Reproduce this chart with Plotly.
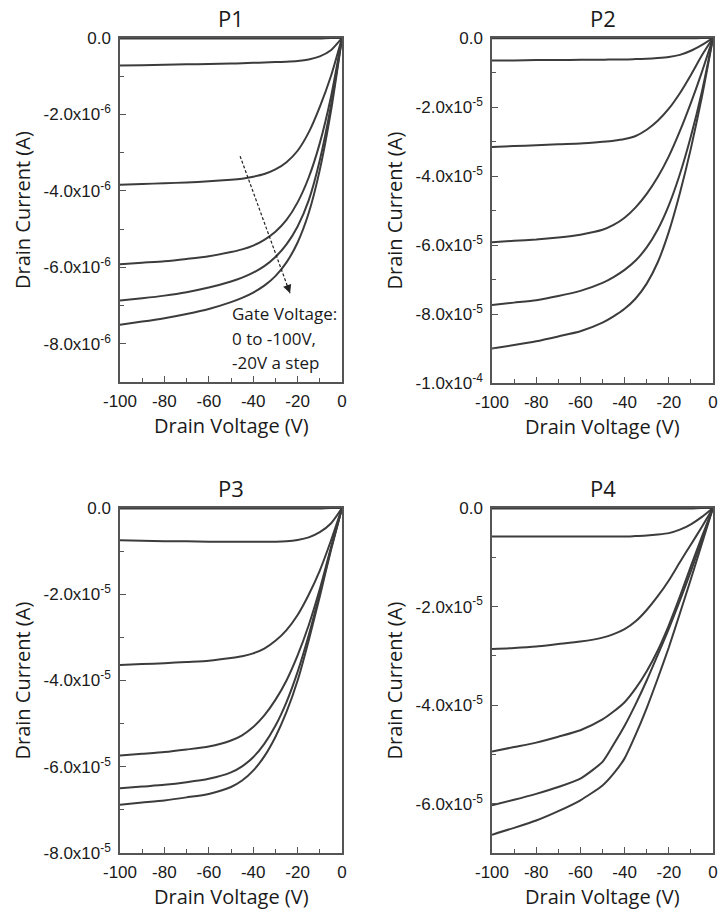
import plotly.graph_objects as go

# Drain voltage sample points (V)
drain_v = [-100, -90, -80, -70, -60, -50, -45, -40, -35, -30, -25, -20, -15, -10, -5, 0]

# Gate voltage labels (0 to -100 V, -20 V a step)
gate_v = [0, -20, -40, -60, -80, -100]

# P1 drain current (x1e-6 A), one list per gate voltage
p1_g0 = [-0.01, -0.01, -0.01, -0.01, -0.01, -0.01, -0.01, -0.01, -0.01, -0.01, -0.01, -0.01, -0.01, -0.01, 0, 0]
p1_g20 = [-0.72, -0.71, -0.70, -0.69, -0.68, -0.67, -0.66, -0.65, -0.64, -0.63, -0.62, -0.60, -0.56, -0.48, -0.32, 0]
p1_g40 = [-3.84, -3.82, -3.80, -3.78, -3.75, -3.71, -3.68, -3.63, -3.56, -3.44, -3.25, -2.95, -2.47, -1.80, -1.00, 0]
p1_g60 = [-5.92, -5.88, -5.84, -5.78, -5.71, -5.60, -5.53, -5.43, -5.28, -5.07, -4.76, -4.30, -3.65, -2.75, -1.55, 0]
p1_g80 = [-6.87, -6.81, -6.74, -6.65, -6.53, -6.37, -6.27, -6.14, -5.97, -5.73, -5.40, -4.93, -4.25, -3.20, -1.78, 0]
p1_g100 = [-7.50, -7.42, -7.33, -7.22, -7.09, -6.91, -6.80, -6.66, -6.48, -6.23, -5.87, -5.35, -4.58, -3.45, -1.92, 0]

# P2 drain current (x1e-5 A)
p2_g0 = [-0.01, -0.01, -0.01, -0.01, -0.01, -0.01, -0.01, -0.01, -0.01, -0.01, -0.01, -0.01, -0.01, -0.01, 0, 0]
p2_g20 = [-0.65, -0.65, -0.64, -0.64, -0.63, -0.63, -0.62, -0.62, -0.61, -0.60, -0.58, -0.55, -0.49, -0.37, -0.20, 0]
p2_g40 = [-3.16, -3.13, -3.11, -3.08, -3.06, -3.01, -2.98, -2.93, -2.84, -2.66, -2.40, -2.05, -1.60, -1.07, -0.50, 0]
p2_g60 = [-5.92, -5.88, -5.84, -5.78, -5.70, -5.56, -5.42, -5.21, -4.91, -4.52, -4.03, -3.43, -2.70, -1.88, -0.98, 0]
p2_g80 = [-7.74, -7.67, -7.60, -7.48, -7.33, -7.10, -6.93, -6.72, -6.45, -6.07, -5.55, -4.85, -3.95, -2.85, -1.55, 0]
p2_g100 = [-9.00, -8.90, -8.79, -8.65, -8.50, -8.25, -8.07, -7.85, -7.55, -7.12, -6.50, -5.62, -4.50, -3.20, -1.70, 0]

# P3 drain current (x1e-5 A)
p3_g0 = [-0.01, -0.01, -0.01, -0.01, -0.01, -0.01, -0.01, -0.01, -0.01, -0.01, -0.01, -0.01, -0.01, -0.01, 0, 0]
p3_g20 = [-0.75, -0.76, -0.77, -0.77, -0.78, -0.78, -0.78, -0.78, -0.78, -0.78, -0.77, -0.74, -0.68, -0.56, -0.36, 0]
p3_g40 = [-3.64, -3.62, -3.60, -3.57, -3.54, -3.48, -3.44, -3.37, -3.26, -3.08, -2.83, -2.48, -2.01, -1.45, -0.76, 0]
p3_g60 = [-5.74, -5.70, -5.66, -5.60, -5.53, -5.39, -5.27, -5.08, -4.81, -4.45, -4.00, -3.42, -2.72, -1.88, -0.92, 0]
p3_g80 = [-6.50, -6.46, -6.42, -6.36, -6.28, -6.13, -5.99, -5.78, -5.47, -5.05, -4.50, -3.80, -2.95, -1.98, -0.95, 0]
p3_g100 = [-6.88, -6.83, -6.78, -6.71, -6.63, -6.47, -6.32, -6.09, -5.76, -5.31, -4.73, -4.00, -3.07, -2.05, -0.98, 0]

# P4 drain current (x1e-5 A)
p4_g0 = [-0.01, -0.01, -0.01, -0.01, -0.01, -0.01, -0.01, -0.01, -0.01, -0.01, -0.01, -0.01, -0.01, -0.01, 0, 0]
p4_g20 = [-0.58, -0.58, -0.58, -0.58, -0.58, -0.58, -0.58, -0.58, -0.57, -0.56, -0.54, -0.51, -0.44, -0.33, -0.18, 0]
p4_g40 = [-2.86, -2.84, -2.81, -2.76, -2.71, -2.63, -2.56, -2.46, -2.30, -2.07, -1.79, -1.47, -1.10, -0.74, -0.38, 0]
p4_g60 = [-4.94, -4.85, -4.76, -4.64, -4.51, -4.29, -4.13, -3.94, -3.66, -3.31, -2.89, -2.38, -1.80, -1.18, -0.58, 0]
p4_g80 = [-6.03, -5.92, -5.80, -5.66, -5.49, -5.15, -4.80, -4.42, -3.98, -3.50, -2.98, -2.45, -1.88, -1.28, -0.65, 0]
p4_g100 = [-6.63, -6.49, -6.34, -6.15, -5.93, -5.63, -5.39, -5.08, -4.60, -4.06, -3.46, -2.83, -2.14, -1.44, -0.72, 0]

panel_titles = ["P1", "P2", "P3", "P4"]
panel_scales = [1e-6, 1e-5, 1e-5, 1e-5]
panel_series = [
    [p1_g0, p1_g20, p1_g40, p1_g60, p1_g80, p1_g100],
    [p2_g0, p2_g20, p2_g40, p2_g60, p2_g80, p2_g100],
    [p3_g0, p3_g20, p3_g40, p3_g60, p3_g80, p3_g100],
    [p4_g0, p4_g20, p4_g40, p4_g60, p4_g80, p4_g100],
]
# y tick values (in units of the panel scale) and labels
panel_yticks = [
    [0, -2, -4, -6, -8],
    [0, -2, -4, -6, -8, -10],
    [0, -2, -4, -6, -8],
    [0, -2, -4, -6],
]
panel_yticktext = [
    ["0.0", "-2.0x10<sup>-6</sup>", "-4.0x10<sup>-6</sup>", "-6.0x10<sup>-6</sup>", "-8.0x10<sup>-6</sup>"],
    ["0.0", "-2.0x10<sup>-5</sup>", "-4.0x10<sup>-5</sup>", "-6.0x10<sup>-5</sup>", "-8.0x10<sup>-5</sup>", "-1.0x10<sup>-4</sup>"],
    ["0.0", "-2.0x10<sup>-5</sup>", "-4.0x10<sup>-5</sup>", "-6.0x10<sup>-5</sup>", "-8.0x10<sup>-5</sup>"],
    ["0.0", "-2.0x10<sup>-5</sup>", "-4.0x10<sup>-5</sup>", "-6.0x10<sup>-5</sup>"],
]
panel_yminor = [
    [-1, -3, -5, -7, -9],
    [-1, -3, -5, -7, -9],
    [-1, -3, -5, -7],
    [-1, -3, -5, -7],
]
panel_ymin = [-9, -10, -8, -7]
x_ticks = [-100, -80, -60, -40, -20, 0]
x_minor = [-90, -70, -50, -30, -10]

x_title = "Drain Voltage (V)"
y_title = "Drain Current (A)"
note_lines = ["Gate Voltage:", "0 to -100V,", "-20V a step"]

W, H = 718, 911
# plot-area pixel boxes: (left, right, top, bottom)
boxes = [(120, 342, 38, 382), (492, 713, 38, 383), (120, 342, 508, 853), (492, 713, 508, 853)]

LINE = "#3c3c3c"
AX = "#555555"
TXT = "#1a1a1a"
TICKFONT = dict(family="Liberation Sans, Arial, sans-serif", size=17, color=TXT)
TITLEFONT = dict(family="Open Sans, sans-serif", size=20, color=TXT)

fig = go.Figure()
layout = dict(width=W, height=H, margin=dict(l=0, r=0, t=0, b=0, autoexpand=False),
              template="none",
              paper_bgcolor="white", plot_bgcolor="white", showlegend=False)
annotations = []
shapes = []

for i in range(4):
    k = "" if i == 0 else str(i + 1)
    l, r, t, b = boxes[i]
    sc = panel_scales[i]
    for g, ser in zip(gate_v, panel_series[i]):
        fig.add_trace(go.Scatter(
            x=drain_v, y=[v * sc for v in ser], mode="lines",
            line=dict(color=LINE, width=2, shape="spline", smoothing=0.6),
            name=f"VG={g} V", xaxis="x" + k, yaxis="y" + k, hoverinfo="skip", cliponaxis=True))
    layout["xaxis" + k] = dict(
        domain=[l / W, r / W], anchor="y" + k, range=[-100, 0], automargin=False,
        tickvals=x_ticks, ticktext=[str(v) for v in x_ticks],
        ticks="inside", ticklen=6, tickwidth=1.2, tickcolor=AX,
        minor=dict(tickvals=x_minor, ticks="inside", ticklen=4, tickwidth=1.2, tickcolor=AX),
        showline=True, linecolor=AX, linewidth=1.5, mirror=True,
        showgrid=False, zeroline=False, tickfont=TICKFONT, ticklabelstandoff=3)
    layout["yaxis" + k] = dict(
        domain=[1 - b / H, 1 - t / H], anchor="x" + k, automargin=False,
        range=[panel_ymin[i] * sc, 0],
        tickvals=[v * sc for v in panel_yticks[i]], ticktext=panel_yticktext[i],
        ticks="inside", ticklen=6, tickwidth=1.2, tickcolor=AX,
        minor=dict(tickvals=[v * sc for v in panel_yminor[i]], ticks="inside", ticklen=4,
                   tickwidth=1.2, tickcolor=AX),
        showline=True, linecolor=AX, linewidth=1.5, mirror=True,
        showgrid=False, zeroline=False, tickfont=TICKFONT, ticklabelstandoff=4)
    cx = (l + r) / 2 / W
    annotations.append(dict(text=panel_titles[i], x=cx, y=1 - (t - 20) / H, xref="paper", yref="paper",
                            showarrow=False, xanchor="center", yanchor="middle",
                            font=dict(family="Open Sans, sans-serif", size=22, color=TXT)))
    annotations.append(dict(text=x_title, x=cx, y=1 - (b + 43) / H, xref="paper", yref="paper",
                            showarrow=False, xanchor="center", yanchor="middle", font=TITLEFONT))
    annotations.append(dict(text=y_title, x=(l - 98) / W, y=1 - (t + b) / 2 / H, xref="paper", yref="paper",
                            showarrow=False, xanchor="center", yanchor="middle", textangle=-90,
                            font=TITLEFONT))

# P1 gate-voltage arrow (dashed) and note
arrow_start = (-45.9, -3.09e-6)
arrow_end = (-23.4, -6.68e-6)
shapes.append(dict(type="line", xref="x", yref="y", x0=arrow_start[0], y0=arrow_start[1],
                   x1=arrow_end[0], y1=arrow_end[1],
                   line=dict(color="#222222", width=1.2, dash="3px,2px")))
annotations.append(dict(x=arrow_end[0], y=arrow_end[1], xref="x", yref="y", ax=-3.4, ay=-9.4,
                        axref="pixel", ayref="pixel", text="", showarrow=True,
                        arrowhead=2, arrowsize=1.3, arrowwidth=1.3, arrowcolor="#222222"))
note_y = [-7.22e-6, -7.87e-6, -8.48e-6]
for txt, yv in zip(note_lines, note_y):
    annotations.append(dict(text=txt, x=-50.5, y=yv, xref="x", yref="y", showarrow=False,
                            xanchor="left", yanchor="middle",
                            font=dict(family="Open Sans, sans-serif", size=17, color=TXT)))

layout["annotations"] = annotations
layout["shapes"] = shapes
fig.update_layout(**layout)
fig.write_html("out.html", config={"displayModeBar": False},
               post_script="document.body.style.margin='0';document.body.style.padding='0';"
                           "document.body.style.overflow='hidden';")
